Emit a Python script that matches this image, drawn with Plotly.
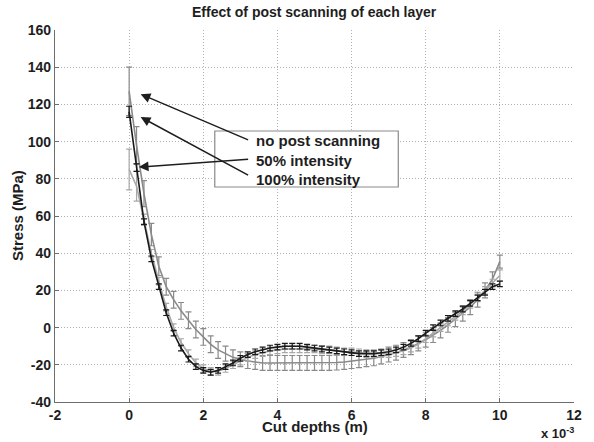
import plotly.graph_objects as go

# Cut depth (units of 1e-3 m)
depth = [0.0, 0.2, 0.4, 0.6, 0.8, 1.0, 1.2, 1.4, 1.6, 1.8,
         2.0, 2.2, 2.4, 2.6, 2.8, 3.0, 3.2, 3.4, 3.6, 3.8,
         4.0, 4.2, 4.4, 4.6, 4.8, 5.0, 5.2, 5.4, 5.6, 5.8,
         6.0, 6.2, 6.4, 6.6, 6.8, 7.0, 7.2, 7.4, 7.6, 7.8,
         8.0, 8.2, 8.4, 8.6, 8.8, 9.0, 9.2, 9.4, 9.6, 9.8, 10.0]

no_post = [127, 98, 72, 50, 33, 22, 15, 9, 4, -1,
           -5, -9, -12, -14, -16, -17, -18, -18.5, -19, -19,
           -19, -19, -19, -19, -19, -19, -19, -19, -18.8, -18.5,
           -18, -17.5, -17, -16.5, -15.5, -14.5, -13.5, -12, -10.5, -8.5,
           -6.5, -4, -1.5, 1.5, 4.5, 7.5, 11, 15, 20, 26, 35.5]
no_post_err = [13, 10, 7, 6, 5, 4.5, 4.5, 4.5, 4.5, 4.5,
               4.5, 4.5, 4.5, 4, 4, 4, 4, 4, 4, 4,
               4, 4, 4, 4, 4, 4, 4, 4, 4, 4,
               4, 4, 4, 4, 4, 4, 4, 4, 4, 4,
               4, 4, 4, 4, 4, 4, 4, 4, 4, 4, 3.5]

int50 = [85, 76, 58, 40, 25, 11, 0, -8, -14, -19,
         -22, -23.5, -23.5, -22, -20, -18, -16, -14.5, -13.5, -12.5,
         -12, -11.5, -11.5, -11.5, -11.5, -11.5, -12, -12, -12.5, -13,
         -13, -13.5, -14, -14, -14, -14, -13.5, -12.5, -11, -9,
         -6, -3, 0, 3, 6, 9, 12.5, 16, 20, 24, 28]
int50_err = [11, 8, 3, 2, 2, 2, 2, 2, 2, 2,
             2, 2, 2, 2, 2, 2, 2, 2, 2, 2,
             2, 2, 2, 2, 2, 2, 2, 2, 2, 2,
             2, 2, 2, 2, 2, 2, 2, 2, 2, 2,
             2, 2, 2, 2, 2, 2, 2, 2, 2, 2, 3]

int100 = [116, 86, 57, 37, 22, 8, -3, -11, -17, -21,
          -23, -24, -23, -21, -19, -16.5, -14.5, -13, -12, -11,
          -10.5, -10, -10, -10, -10.5, -11, -11.5, -12, -12.5, -13,
          -13.5, -14, -14, -14, -13.5, -13, -12, -10.5, -8.5, -6,
          -3, 0, 2.5, 5, 7.5, 10, 13, 16, 19, 22, 23.5]
int100_err = [3, 2, 1.5, 1.5, 1.5, 1.5, 1.5, 1.5, 1.5, 1.5,
              1.5, 1.5, 1.5, 1.5, 1.5, 1.5, 1.5, 1.5, 1.5, 1.5,
              1.5, 1.5, 1.5, 1.5, 1.5, 1.5, 1.5, 1.5, 1.5, 1.5,
              1.5, 1.5, 1.5, 1.5, 1.5, 1.5, 1.5, 1.5, 1.5, 1.5,
              1.5, 1.5, 1.5, 1.5, 1.5, 1.5, 1.5, 1.5, 1.5, 1.5, 1.5]

legend_labels = ["no post scanning", "50% intensity", "100% intensity"]
x_ticks = [-2, 0, 2, 4, 6, 8, 10, 12]
y_ticks = [-40, -20, 0, 20, 40, 60, 80, 100, 120, 140, 160]

FONT = "Liberation Sans, Arial, sans-serif"
TXT = "#1e1e1e"

fig = go.Figure()
series = [
    (no_post, no_post_err, "#8a8a8a", legend_labels[0]),
    (int50, int50_err, "#a8a8a8", legend_labels[1]),
    (int100, int100_err, "#1a1a1a", legend_labels[2]),
]
for ys, es, col, name in series:
    fig.add_trace(go.Scatter(
        x=depth, y=ys, mode="lines", name=name,
        line=dict(color=col, width=1.6),
        error_y=dict(type="data", array=es, visible=True,
                     color=col, thickness=1.2, width=3),
        showlegend=False,
    ))

axis_common = dict(
    showgrid=True, gridcolor="#b0b0b0", griddash="1px,2px", gridwidth=1,
    showline=True, linecolor="#6e6e6e", linewidth=1.2,
    ticks="inside", ticklen=4, tickcolor="#6e6e6e",
    tickfont=dict(family=FONT, size=14, color=TXT, weight="bold"),
    zeroline=False,
)
fig.update_xaxes(range=[-2, 12], tickvals=x_ticks,
                 ticktext=[str(v) for v in x_ticks], **axis_common)
fig.update_yaxes(range=[-40, 160], tickvals=y_ticks,
                 ticktext=[str(v) for v in y_ticks], **axis_common)

fig.update_layout(
    width=594, height=442,
    margin=dict(l=55, r=13, t=30, b=40),
    paper_bgcolor="white", plot_bgcolor="white",
    font=dict(family=FONT, color=TXT),
    showlegend=False,
)

# Title and axis labels
fig.add_annotation(text="Effect of post scanning of each layer",
                   xref="paper", yref="paper", x=0.5, y=1.0, yshift=18,
                   showarrow=False, xanchor="center", yanchor="middle",
                   font=dict(family=FONT, size=14, color=TXT, weight="bold"))
fig.add_annotation(text="Cut depths (m)", xref="paper", yref="paper",
                   x=0.5, y=0, yshift=-24, showarrow=False,
                   xanchor="center", yanchor="middle",
                   font=dict(family=FONT, size=15, color=TXT, weight="bold"))
fig.add_annotation(text="x 10<sup>-3</sup>", xref="paper", yref="paper",
                   x=1.0, y=0, xshift=2, yshift=-31, showarrow=False,
                   xanchor="right", yanchor="middle",
                   font=dict(family=FONT, size=13, color=TXT, weight="bold"))
fig.add_annotation(text="Stress (MPa)", xref="paper", yref="paper",
                   x=0, y=0.5, xshift=-38, showarrow=False, textangle=-90,
                   xanchor="center", yanchor="middle",
                   font=dict(family=FONT, size=15, color=TXT, weight="bold"))

# Legend box (MATLAB-style, with space for hidden line samples)
fig.add_shape(type="rect", xref="x", yref="y", x0=2.31, x1=7.26,
              y0=75.6, y1=105.7, line=dict(color="#8a8a8a", width=1.2),
              fillcolor="white", layer="above")
fig.add_annotation(text="<br>".join(legend_labels), xref="x", yref="y",
                   x=3.38, y=90.3, showarrow=False, xanchor="left",
                   yanchor="middle", align="left",
                   font=dict(family=FONT, size=15, color=TXT, weight="bold"))

# Arrows from legend text to curves
arrows = [
    (0.31, 125.5, 3.25, 100.6),
    (0.26, 86.3, 3.25, 90.6),
    (0.31, 113.2, 3.25, 81.5),
]
for hx, hy, tx, ty in arrows:
    fig.add_annotation(x=hx, y=hy, ax=tx, ay=ty, xref="x", yref="y",
                       axref="x", ayref="y", text="", showarrow=True,
                       arrowhead=2, arrowsize=1.3, arrowwidth=1.5,
                       arrowcolor="#1e1e1e")

fig.write_html("out.html")
